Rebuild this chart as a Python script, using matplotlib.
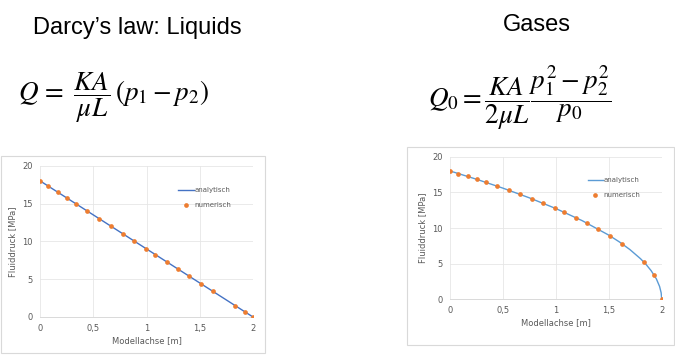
import matplotlib

matplotlib.use("Agg")
import matplotlib.pyplot as plt
from matplotlib.patches import Rectangle

plt.rcParams["mathtext.fontset"] = "stix"

# numerical sample positions along the model axis [m]
x_num = [0.0, 0.079, 0.167, 0.254, 0.339, 0.444, 0.555, 0.663, 0.776, 0.880,
         0.993, 1.081, 1.192, 1.299, 1.399, 1.510, 1.625, 1.834, 1.929, 2.0]

# liquid: analytic line and numerical points [MPa]
x_liq_line = [0.0, 2.0]
p_liq_line = [18.0, 0.0]
p_liq_num = [18.0, 17.3, 16.5, 15.7, 14.95, 14.0, 13.0, 12.0, 11.0, 10.1,
             9.05, 8.25, 7.25, 6.3, 5.4, 4.4, 3.4, 1.5, 0.65, 0.0]

x_gas_line = [0.0, 0.25, 0.5, 0.75, 1.0, 1.25, 1.5, 1.6, 1.7, 1.8, 1.85,
              1.9, 1.95, 1.98, 1.995, 2.0]
p_gas_line = [18.0, 16.84, 15.59, 14.23, 12.73, 11.02, 9.0, 8.05, 6.97, 5.69,
              4.93, 4.02, 2.85, 1.8, 0.9, 0.0]
p_gas_num = [18.0, 17.64, 17.23, 16.81, 16.4, 15.87, 15.3, 14.7, 14.08, 13.5,
             12.8, 12.2, 11.45, 10.66, 9.87, 8.92, 7.8, 5.19, 3.4, 0.1]

x_ticks = [0, 0.5, 1, 1.5, 2]
x_ticklabels = ["0", "0,5", "1", "1,5", "2"]
y_ticks = [0, 5, 10, 15, 20]

ORANGE = "#ed7d31"
GRID = "#d9d9d9"
TXT = "#595959"

fig = plt.figure(figsize=(6.75, 3.55), dpi=100)

# titles and equations
fig.text(33 / 675, 1 - 28 / 355, "Darcy\u2019s law: Liquids", fontsize=17,
         family="Liberation Sans", va="center", ha="left")
fig.text(537 / 675, 1 - 25 / 355, "Gases", fontsize=17,
         family="Liberation Sans", va="center", ha="center")
fig.text(18 / 675, 1 - 98 / 355,
         r"$Q\,=\ \dfrac{KA}{\mu L}\,(p_1 - p_2)$", fontsize=19.5,
         va="center", ha="left")
fig.text(428 / 675, 1 - 98 / 355,
         r"$Q_0 = \dfrac{KA}{2\mu L}\dfrac{p_1^2 - p_2^2}{p_0}$", fontsize=19.5,
         va="center", ha="left")

# chart frames
for rect in [(1 / 675, 2 / 355, 264 / 675, 197 / 355),
             (407 / 675, 10 / 355, 267 / 675, 198 / 355)]:
    fig.add_artist(Rectangle(rect[:2], rect[2], rect[3], transform=fig.transFigure,
                             fill=False, edgecolor=GRID, linewidth=0.8))


def draw(ax, xl, yl, yn, color, leg_y):
    ax.plot(xl, yl, color=color, lw=1.0, label="analytisch", zorder=2)
    ax.plot(x_num, yn, "o", color=ORANGE, ms=3.4, mec="none",
            label="numerisch", zorder=3)
    ax.set_xlim(0, 2)
    ax.set_ylim(0, 20)
    ax.set_xticks(x_ticks, x_ticklabels)
    ax.set_yticks(y_ticks)
    ax.grid(color="#e6e6e6", lw=0.6)
    ax.set_axisbelow(True)
    for s in ["top", "right", "left"]:
        ax.spines[s].set_visible(False)
    ax.spines["bottom"].set_color(GRID)
    ax.spines["bottom"].set_linewidth(0.7)
    ax.tick_params(length=0, labelsize=6, labelcolor=TXT, pad=5)
    ax.set_xlabel("Modellachse [m]", fontsize=6, color=TXT, labelpad=2)
    ax.set_ylabel("Fluiddruck [MPa]", fontsize=6, color=TXT, labelpad=4)
    ax.legend(loc="upper left", bbox_to_anchor=(0.62, leg_y), frameon=False,
              fontsize=5, handlelength=2.2, handletextpad=0.1,
              labelspacing=1.3, labelcolor=TXT)


ax1 = fig.add_axes([40 / 675, 1 - 317 / 355, 213 / 675, 151.3 / 355])
draw(ax1, x_liq_line, p_liq_line, p_liq_num, "#4472c4", 0.9)

ax2 = fig.add_axes([450 / 675, 1 - 299.3 / 355, 211.7 / 675, 142.6 / 355])
draw(ax2, x_gas_line, p_gas_line, p_gas_num, "#5b9bd5", 0.9)

fig.savefig("out.png", dpi=100)
